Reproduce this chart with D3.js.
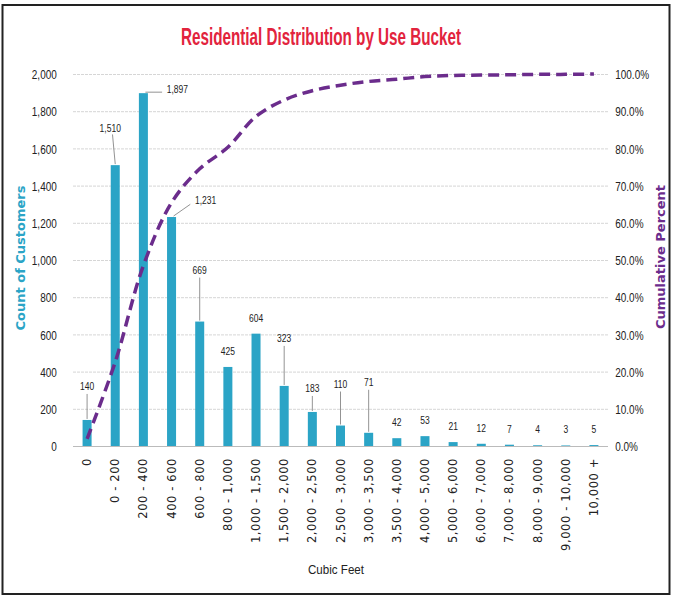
<!DOCTYPE html>
<html>
<head>
<meta charset="utf-8">
<script src="https://cdn.jsdelivr.net/npm/d3@7"></script>
<style>
  body { margin: 0; background: #fff; }
  .narrow { font-family: "Liberation Sans", Arial, sans-serif; }
</style>
</head>
<body>
<svg class="chart"></svg>
<script>
var buckets = ["0", "0 - 200", "200 - 400", "400 - 600", "600 - 800", "800 - 1,000", "1,000 - 1,500", "1,500 - 2,000",
  "2,000 - 2,500", "2,500 - 3,000", "3,000 - 3,500", "3,500 - 4,000", "4,000 - 5,000", "5,000 - 6,000",
  "6,000 - 7,000", "7,000 - 8,000", "8,000 - 9,000", "9,000 - 10,000", "10,000 +"];
var customers = [140, 1510, 1897, 1231, 669, 425, 604, 323, 183, 110, 71, 42, 53, 21, 12, 7, 4, 3, 5];
var cumPercent = [1.9, 22.6, 48.5, 65.4, 74.5, 80.3, 88.6, 93.0, 95.5, 97.0, 98.0, 98.6, 99.3, 99.6, 99.7, 99.8, 99.9, 99.9, 100.0];
var countTicks = [0, 200, 400, 600, 800, 1000, 1200, 1400, 1600, 1800, 2000];
var pctTicks = [0, 10, 20, 30, 40, 50, 60, 70, 80, 90, 100];

// label placement (dx, dy in px from bar top, leader line yes/no)
var labelLayout = [
  [0, -30, true], [-5, -33, true], [34, 0, true], [34, -13, true], [0, -48, true], [0, -12, false],
  [0, -12, false], [0, -44, true], [0, -20, true], [0, -38, true], [0, -47, true], [0, -12, false],
  [0, -12, false], [0, -12, false], [0, -12, false], [0, -12, false], [0, -12, false], [0, -12, false], [0, -12, false]
];

var W = 673, H = 598;
var plotLeft = 73, plotRight = 608, plotTop = 74, plotBottom = 446;
var barColor = "#2ba4c6", lineColor = "#6b2c8c";
var squeeze = "scale(0.74,1)";

var svg = d3.select(".chart").attr("width", W).attr("height", H);

svg.append("rect")
   .attr("x", 2.5).attr("y", 5).attr("width", 667).attr("height", 589)
   .attr("fill", "none").attr("stroke", "#222").attr("stroke-width", 2);

var x = d3.scaleBand().domain(buckets).range([plotLeft, plotRight]).paddingInner(0.68).paddingOuter(0.34);
var y = d3.scaleLinear().domain([0, 2000]).range([plotBottom, plotTop]);
var y2 = d3.scaleLinear().domain([0, 100]).range([plotBottom, plotTop]);
function cx(i) { return x(buckets[i]) + x.bandwidth() / 2; }

// gridlines
svg.append("g").selectAll("line").data(countTicks).enter().append("line")
   .attr("x1", plotLeft).attr("x2", plotRight)
   .attr("y1", function(d) { return y(d) + 0.5; }).attr("y2", function(d) { return y(d) + 0.5; })
   .attr("stroke", function(d) { return d === 0 ? "#bbb" : "#d6d6d6"; })
   .attr("stroke-dasharray", function(d) { return d === 0 ? null : "3,1"; });

// left axis
var yAxis = svg.append("g").attr("transform", "translate(" + (plotLeft - 14) + ",0)")
   .call(d3.axisLeft(y).tickValues(countTicks).tickSize(0).tickFormat(d3.format(",")));
yAxis.select(".domain").remove();
yAxis.selectAll("text").attr("class", "narrow").attr("font-size", 13.5).attr("fill", "#222")
   .attr("dy", "0.35em").attr("transform", squeeze);

// right axis
var y2Axis = svg.append("g").attr("transform", "translate(" + (plotRight + 5) + ",0)")
   .call(d3.axisRight(y2).tickValues(pctTicks).tickSize(0).tickFormat(function(d) { return d.toFixed(1) + "%"; }));
y2Axis.select(".domain").remove();
y2Axis.selectAll("text").attr("class", "narrow").attr("font-size", 13.5).attr("fill", "#222")
   .attr("dy", "0.35em").attr("transform", squeeze);

// bars
svg.append("g").selectAll("rect").data(customers).enter().append("rect")
   .attr("x", function(d, i) { return x(buckets[i]); })
   .attr("y", function(d) { return y(d); })
   .attr("width", x.bandwidth())
   .attr("height", function(d) { return plotBottom - y(d); })
   .attr("fill", barColor);

// leader lines
var leaders = d3.range(customers.length).filter(function(i) { return labelLayout[i][2]; });
svg.append("g").selectAll("line").data(leaders).enter().append("line")
   .attr("x1", function(i) { return cx(i) + labelLayout[i][0] * 0.55; })
   .attr("y1", function(i) { return labelLayout[i][0] ? y(customers[i]) + labelLayout[i][1] * 0.9 - 1 : y(customers[i]) + labelLayout[i][1] + 4; })
   .attr("x2", function(i) { return cx(i) + (labelLayout[i][0] > 0 ? 2 : 0); })
   .attr("y2", function(i) { return y(customers[i]) - 1; })
   .attr("stroke", "#777").attr("stroke-width", 0.8);

// data labels
svg.append("g").selectAll("g").data(customers).enter().append("g")
   .attr("transform", function(d, i) { return "translate(" + (cx(i) + labelLayout[i][0]) + "," + (y(d) + labelLayout[i][1]) + ")"; })
   .append("text")
   .attr("class", "narrow")
   .attr("transform", squeeze)
   .attr("text-anchor", "middle")
   .attr("font-size", 11.5)
   .attr("fill", "#222")
   .text(function(d) { return d3.format(",")(d); });

// cumulative line
var line = d3.line()
   .x(function(d, i) { return cx(i); })
   .y(function(d) { return y2(d); })
   .curve(d3.curveCatmullRom.alpha(0.5));
svg.append("path").datum(cumPercent)
   .attr("d", line)
   .attr("fill", "none")
   .attr("stroke", lineColor)
   .attr("stroke-width", 3.5)
   .attr("stroke-dasharray", "11,6");

// x tick labels
svg.append("g").selectAll("text").data(buckets).enter().append("text")
   .attr("transform", function(d) { return "translate(" + (x(d) + x.bandwidth() / 2 + 4) + "," + (plotBottom + 12) + ") rotate(-90)"; })
   .attr("text-anchor", "end")
   .attr("font-family", "DejaVu Sans, sans-serif")
   .attr("font-size", 11.5)
   .attr("letter-spacing", 0.6)
   .attr("fill", "#222")
   .text(function(d) { return d; });

// title
svg.append("text")
   .attr("class", "narrow")
   .attr("x", 321).attr("y", 45)
   .attr("text-anchor", "middle")
   .attr("font-size", 23).attr("font-weight", "bold")
   .attr("textLength", 280).attr("lengthAdjust", "spacingAndGlyphs")
   .attr("fill", "#e2233d")
   .text("Residential Distribution by Use Bucket");

// axis titles
svg.append("text")
   .attr("transform", "translate(25,258) rotate(-90)")
   .attr("text-anchor", "middle")
   .attr("font-family", "DejaVu Sans, sans-serif")
   .attr("font-size", 13).attr("font-weight", "bold")
   .attr("fill", barColor)
   .text("Count of Customers");

svg.append("text")
   .attr("transform", "translate(665,257) rotate(-90)")
   .attr("text-anchor", "middle")
   .attr("font-family", "DejaVu Sans, sans-serif")
   .attr("font-size", 13).attr("font-weight", "bold")
   .attr("fill", lineColor)
   .text("Cumulative Percent");

svg.append("text")
   .attr("class", "narrow")
   .attr("x", 336).attr("y", 574)
   .attr("text-anchor", "middle")
   .attr("font-size", 13)
   .attr("textLength", 56).attr("lengthAdjust", "spacingAndGlyphs")
   .attr("fill", "#222")
   .text("Cubic Feet");
</script>
</body>
</html>
